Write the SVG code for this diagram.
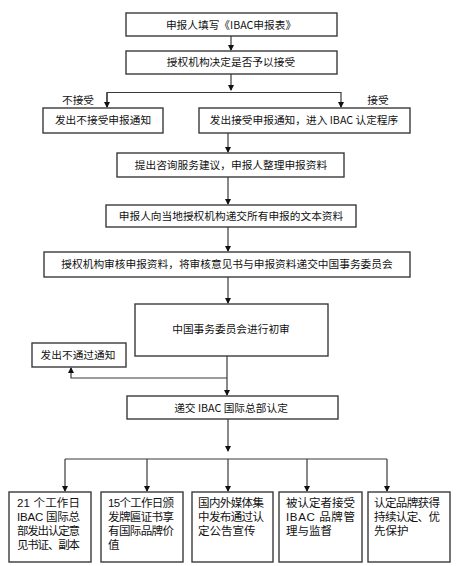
<svg xmlns="http://www.w3.org/2000/svg" width="458" height="566" viewBox="0 0 458 566">
<style>
.b{fill:#fff;stroke:#3a3a3a;stroke-width:1.4}
.t{font-family:"Noto Sans CJK SC","Liberation Sans",sans-serif;font-size:10.7px;fill:#111;text-anchor:middle}
.s{font-family:"Liberation Sans","Noto Sans CJK SC",sans-serif;font-size:11.5px;fill:#111}
.c{fill:none;stroke:#3a3a3a;stroke-width:1.2}
</style>
<defs>
<marker id="a" markerWidth="6" markerHeight="7" refX="5" refY="3" orient="auto" markerUnits="userSpaceOnUse">
<path d="M0,0 L6,3 L0,6 Z" fill="#111"/>
</marker>
</defs>
<rect width="458" height="566" fill="#fff"/>
<g id="connectors">
<path class="c" d="M231,36 V50" marker-end="url(#a)"/>
<path class="c" d="M231,74 V90" marker-end="url(#a)"/>
<path class="c" d="M107,107 V92.5 H341 V107" marker-end="url(#a)"/>
<path class="c" d="M107,92.5 V107" marker-end="url(#a)"/>
<path class="c" d="M228,133 V152" marker-end="url(#a)"/>
<path class="c" d="M228,177 V204" marker-end="url(#a)"/>
<path class="c" d="M228,227 V251" marker-end="url(#a)"/>
<path class="c" d="M228,277 V303" marker-end="url(#a)"/>
<path class="c" d="M227,356 V395" marker-end="url(#a)"/>
<path class="c" d="M227,378 H71 V368" marker-end="url(#a)"/>
<path class="c" d="M228,419 V451" marker-end="url(#a)"/>
<path class="c" d="M65,459 H387"/>
<path class="c" d="M65,459 V491" marker-end="url(#a)"/>
<path class="c" d="M147,459 V491" marker-end="url(#a)"/>
<path class="c" d="M228,459 V491" marker-end="url(#a)"/>
<path class="c" d="M307,459 V491" marker-end="url(#a)"/>
<path class="c" d="M387,459 V491" marker-end="url(#a)"/>
</g>
<g id="n1"><rect class="b" x="126" y="13" width="211" height="23"/><text class="t" x="231" y="28.5">申报人填写《IBAC申报表》</text></g>
<g id="n2"><rect class="b" x="126" y="51" width="211" height="23"/><text class="t" x="231" y="66">授权机构决定是否予以接受</text></g>
<text class="t" x="78" y="104">不接受</text>
<text class="t" x="378" y="104">接受</text>
<g id="n3"><rect class="b" x="43" y="108" width="120" height="25"/><text class="t" x="103" y="124">发出不接受申报通知</text></g>
<g id="n4"><rect class="b" x="199" y="108" width="211" height="25"/><text class="t" x="304" y="124">发出接受申报通知，进入 IBAC 认定程序</text></g>
<g id="n5"><rect class="b" x="117" y="153" width="227" height="24"/><text class="t" x="231" y="169">提出咨询服务建议，申报人整理申报资料</text></g>
<g id="n6"><rect class="b" x="106" y="205" width="250" height="22"/><text class="t" x="231" y="220">申报人向当地授权机构递交所有申报的文本资料</text></g>
<g id="n7"><rect class="b" x="44" y="252" width="366" height="25"/><text class="t" x="227" y="268">授权机构审核申报资料，将审核意见书与申报资料递交中国事务委员会</text></g>
<g id="n8"><rect class="b" x="135" y="304" width="193" height="52"/><text class="t" x="231" y="333">中国事务委员会进行初审</text></g>
<g id="n9"><rect class="b" x="32" y="343" width="94" height="24"/><text class="t" x="78" y="359">发出不通过通知</text></g>
<g id="n10"><rect class="b" x="127" y="396" width="211" height="23"/><text class="t" x="231" y="411.5">递交 IBAC 国际总部认定</text></g>
<g id="n11"><rect class="b" x="9" y="492" width="82" height="70"/>
<text class="s"><tspan x="17" y="507" textLength="63" lengthAdjust="spacing">21 个工作日</tspan><tspan x="17" y="521" textLength="63" lengthAdjust="spacing">IBAC 国际总</tspan><tspan x="17" y="535" textLength="63" lengthAdjust="spacing">部发出认定意</tspan><tspan x="17" y="549" textLength="63" lengthAdjust="spacing">见书证、副本</tspan></text></g>
<g id="n12"><rect class="b" x="101" y="492" width="82" height="70"/>
<text class="s"><tspan x="108" y="507" textLength="66" lengthAdjust="spacing">15个工作日颁</tspan><tspan x="108" y="521" textLength="66" lengthAdjust="spacing">发牌匾证书享</tspan><tspan x="108" y="535" textLength="66" lengthAdjust="spacing">有国际品牌价</tspan><tspan x="108" y="549">值</tspan></text></g>
<g id="n13"><rect class="b" x="192" y="492" width="81" height="70"/>
<text class="s"><tspan x="198" y="507" textLength="66" lengthAdjust="spacing">国内外媒体集</tspan><tspan x="198" y="521" textLength="66" lengthAdjust="spacing">中发布通过认</tspan><tspan x="198" y="535">定公告宣传</tspan></text></g>
<g id="n14"><rect class="b" x="279" y="492" width="83" height="70"/>
<text class="s"><tspan x="286" y="507" textLength="69" lengthAdjust="spacing">被认定者接受</tspan><tspan x="286" y="521" textLength="69" lengthAdjust="spacing">IBAC 品牌管</tspan><tspan x="286" y="535">理与监督</tspan></text></g>
<g id="n15"><rect class="b" x="368" y="492" width="82" height="70"/>
<text class="s"><tspan x="374" y="507" textLength="66" lengthAdjust="spacing">认定品牌获得</tspan><tspan x="374" y="521" textLength="66" lengthAdjust="spacing">持续认定、优</tspan><tspan x="374" y="535">先保护</tspan></text></g>
</svg>
